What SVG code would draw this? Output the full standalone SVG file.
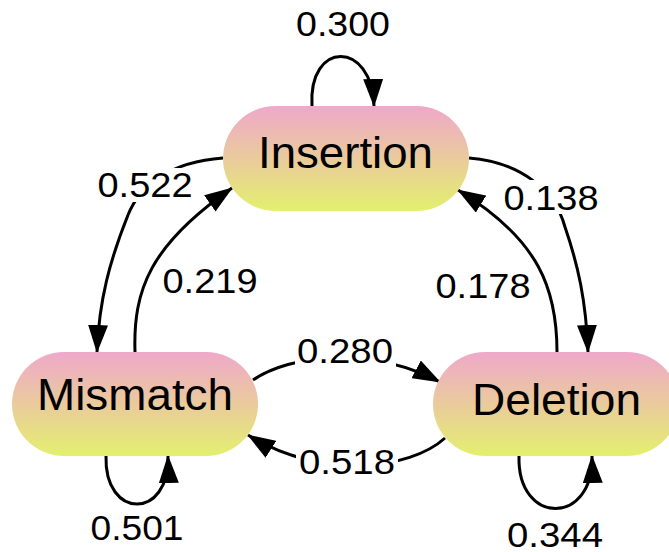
<svg xmlns="http://www.w3.org/2000/svg" width="669" height="552" viewBox="0 0 669 552">
<style>
.node rect{fill:url(#g);}
.nt{font-family:"Liberation Sans",Arial,sans-serif;font-size:44px;fill:#000;text-anchor:middle;}
.lt{font-family:"Liberation Sans",Arial,sans-serif;font-size:35px;fill:#000;text-anchor:middle;}
.e{fill:none;stroke:#000;stroke-width:3;marker-end:url(#ah);}
.bg{fill:#fff;}
</style>
<defs>
<linearGradient id="g" x1="0" y1="0" x2="0" y2="1">
<stop offset="0" stop-color="#EFA8CA"/>
<stop offset="0.5" stop-color="#EACB9C"/>
<stop offset="1" stop-color="#E3F06E"/>
</linearGradient>
<marker id="ah" markerUnits="userSpaceOnUse" markerWidth="28" markerHeight="20" refX="27" refY="10" orient="auto" viewBox="0 0 28 20">
<path d="M0,0 L28,10 L0,20 z" fill="#000"/>
</marker>
</defs>
<g id="edges">
<path class="e" d="M312,106 C308,40 372,40 374,106"/>
<path class="e" d="M106,456 C104,520 170,520 168,456"/>
<path class="e" d="M519,456 C517,526 594,526 592,456"/>
<path class="e" d="M223,158 C170,162 140,185 128,215 C110,260 99,300 97,352"/>
<path class="e" d="M135,352 C133,290 150,245 232,188"/>
<path class="e" d="M469,158 C520,162 555,190 565,227 C578,265 586,300 588,352"/>
<path class="e" d="M557,352 C557,290 540,240 458,190"/>
<path class="e" d="M253,380 C290,355 370,345 440,382"/>
<path class="e" d="M445,438 C410,470 320,480 248,435"/>
</g>
<g id="labels">
<text class="lt" x="343" y="36" textLength="94" lengthAdjust="spacingAndGlyphs">0.300</text>
<rect class="bg" x="95" y="168" width="100" height="34"/>
<text class="lt" x="145" y="197" textLength="95" lengthAdjust="spacingAndGlyphs">0.522</text>
<text class="lt" x="210" y="293" textLength="95" lengthAdjust="spacingAndGlyphs">0.219</text>
<text class="lt" x="137" y="540" textLength="93" lengthAdjust="spacingAndGlyphs">0.501</text>
<rect class="bg" x="500" y="180" width="101" height="34"/>
<text class="lt" x="551" y="210" textLength="95" lengthAdjust="spacingAndGlyphs">0.138</text>
<text class="lt" x="483" y="298" textLength="95" lengthAdjust="spacingAndGlyphs">0.178</text>
<text class="lt" x="555" y="547" textLength="96" lengthAdjust="spacingAndGlyphs">0.344</text>
<rect class="bg" x="295" y="334" width="101" height="34"/>
<text class="lt" x="345" y="363" textLength="96" lengthAdjust="spacingAndGlyphs">0.280</text>
<rect class="bg" x="296" y="445" width="102" height="34"/>
<text class="lt" x="347" y="474" textLength="96" lengthAdjust="spacingAndGlyphs">0.518</text>
</g>
<g id="Insertion" class="node">
<rect x="223" y="106" width="246" height="105" rx="52.5"/>
<text class="nt" x="345.5" y="168" textLength="175" lengthAdjust="spacingAndGlyphs">Insertion</text>
</g>
<g id="Mismatch" class="node">
<rect x="12" y="352" width="246" height="104" rx="52"/>
<text class="nt" x="135" y="410" textLength="196" lengthAdjust="spacingAndGlyphs">Mismatch</text>
</g>
<g id="Deletion" class="node">
<rect x="433" y="352" width="246" height="104" rx="52"/>
<text class="nt" x="556.5" y="415" textLength="169" lengthAdjust="spacingAndGlyphs">Deletion</text>
</g>
</svg>
